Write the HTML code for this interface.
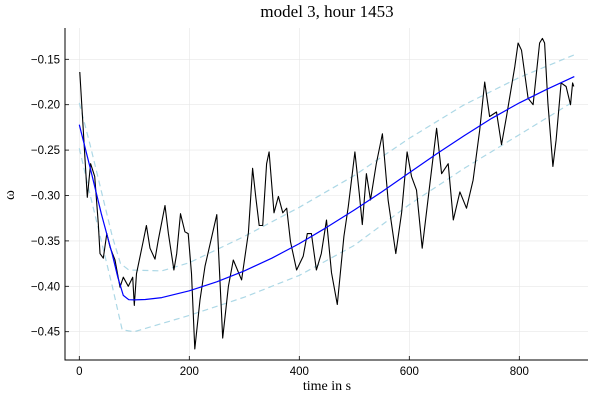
<!DOCTYPE html>
<html><head><meta charset="utf-8"><style>
body{margin:0;background:#fff}
svg text{font-family:"Liberation Sans",sans-serif}
.serif{font-family:"Liberation Serif",serif}
</style></head><body>
<svg id="chart" width="600" height="400" xmlns="http://www.w3.org/2000/svg">
<g id="grid"></g>
<g id="axes"></g>
<g id="series"></g>
<text class="serif" x="327" y="17" font-size="17" text-anchor="middle">model 3,  hour 1453</text>
<text class="serif" x="327" y="390" font-size="14" text-anchor="middle">time in s</text>
<text class="serif" x="14" y="195" font-size="15" text-anchor="middle" transform="rotate(-90 14 195)">ω</text>
</svg>
<script>
const xTicks=[0,200,400,600,800];
const yTicks=[-0.15,-0.20,-0.25,-0.30,-0.35,-0.40,-0.45];
const fitT=[0,20,40,60,70,80,90,100,120,150,200,250,300,350,400,450,500,550,600,650,700,750,800,850,900];
const fitV=[-0.222,-0.27,-0.32,-0.365,-0.39,-0.41,-0.4148,-0.415,-0.4145,-0.4125,-0.405,-0.395,-0.383,-0.369,-0.353,-0.335,-0.316,-0.296,-0.275,-0.254,-0.234,-0.215,-0.198,-0.183,-0.169];
const upT=[0,20,40,60,75,90,150,200,300,400,500,600,700,800,900];
const upV=[-0.198,-0.245,-0.295,-0.345,-0.375,-0.382,-0.383,-0.374,-0.345,-0.313,-0.278,-0.237,-0.2,-0.17,-0.145];
const loT=[0,20,40,60,78,100,200,300,400,500,600,700,800,900];
const loV=[-0.248,-0.3,-0.35,-0.4,-0.448,-0.45,-0.432,-0.412,-0.388,-0.355,-0.31,-0.27,-0.233,-0.196];
const obsT=[1,14.5,20.6,28,34.5,37.6,43.6,50,56,65,74,80,89,97,100,104,116,122,128.5,137.6,143.6,155.8,162,172,177,184,192,198,204,210,219.5,228.5,250,260.7,271,280,295,307.5,315,321,327,333.4,340.6,345,354,362,370,377,384,395,407,414.5,422,431,440,449.5,458.5,469,481,489,501,509,514.5,522,529.5,540,551,561.5,575.5,586,596,604,613,623.5,637.5,649.6,658.7,670.8,680,692,704,716,728,737,746,758.5,767.6,776.7,791.8,797.9,804,816,825,837,842,846,852,861,867,876,885,893,897,899];
const obsV=[-0.164,-0.302,-0.265,-0.279,-0.331,-0.364,-0.369,-0.342,-0.357,-0.371,-0.401,-0.39,-0.4,-0.39,-0.421,-0.386,-0.351,-0.333,-0.358,-0.37,-0.349,-0.311,-0.342,-0.382,-0.364,-0.32,-0.34,-0.342,-0.386,-0.469,-0.415,-0.378,-0.321,-0.457,-0.4,-0.371,-0.393,-0.341,-0.27,-0.303,-0.333,-0.333,-0.265,-0.252,-0.319,-0.301,-0.319,-0.314,-0.351,-0.382,-0.367,-0.342,-0.342,-0.382,-0.364,-0.327,-0.385,-0.42,-0.345,-0.312,-0.252,-0.298,-0.332,-0.276,-0.305,-0.265,-0.232,-0.305,-0.364,-0.319,-0.252,-0.279,-0.294,-0.358,-0.287,-0.226,-0.276,-0.265,-0.327,-0.296,-0.314,-0.283,-0.228,-0.175,-0.213,-0.208,-0.244,-0.213,-0.158,-0.132,-0.14,-0.193,-0.2,-0.132,-0.127,-0.132,-0.198,-0.268,-0.239,-0.176,-0.18,-0.2,-0.176,-0.18];

const X0=65,X1=588,Y0=28,Y1=360;
const sx=t=>79.3+0.55*t;
const sy=v=>59.3+(-0.15-v)/0.05*45.4;
const NS="http://www.w3.org/2000/svg";
function mk(tag,parent,attrs){const e=document.createElementNS(NS,tag);for(const k in attrs)e.setAttribute(k,attrs[k]);parent.appendChild(e);return e;}
const grid=document.getElementById('grid'),axes=document.getElementById('axes'),series=document.getElementById('series');
xTicks.forEach(t=>{
  const l=mk('line',grid,{x1:sx(t),x2:sx(t),y1:Y0,y2:Y1,stroke:'#e6e6e6','stroke-width':0.6});
  
  
  const tk=mk('line',axes,{x1:sx(t),x2:sx(t),y1:Y1,y2:Y1-4,stroke:'#000','stroke-width':0.8});
  
  
  const tx=mk('text',axes,{x:sx(t),y:Y1+15,'font-size':11.5,'text-anchor':'middle'});
  tx.textContent=String(t);
  
  
});
yTicks.forEach(v=>{
  const l=mk('line',grid,{x1:X0,x2:X1,y1:sy(v),y2:sy(v),stroke:'#e6e6e6','stroke-width':0.6});
  
  
  const tk=mk('line',axes,{x1:X0,x2:X0+4,y1:sy(v),y2:sy(v),stroke:'#000','stroke-width':0.8});
  
  
  const tx=mk('text',axes,{x:X0-5,y:sy(v)+4,'font-size':11.5,'text-anchor':'end'});
  tx.textContent='\u2212'+Math.abs(v).toFixed(2);
  
  
});
const ax=mk('path',axes,{d:`M${X0},${Y0}V${Y1}H${X1}`,fill:'none',stroke:'#000','stroke-width':1});


function line(T,V,attrs,name){
  const d=T.map((t,i)=>(i?'L':'M')+sx(t).toFixed(1)+','+sy(V[i]).toFixed(1)).join('');
  const p=mk('path',series,Object.assign({d,fill:'none'},attrs));
  
  
}
line(upT,upV,{stroke:'#add8e6','stroke-width':1.2,'stroke-dasharray':'6,4'},'upper-band-line');
line(loT,loV,{stroke:'#add8e6','stroke-width':1.2,'stroke-dasharray':'6,4'},'lower-band-line');
line(obsT,obsV,{stroke:'#000','stroke-width':1.1,'stroke-linejoin':'round'},'observed-line');
line(fitT,fitV,{stroke:'#0000ff','stroke-width':1.2,'stroke-linejoin':'round'},'fit-line');
</script>
</body></html>
